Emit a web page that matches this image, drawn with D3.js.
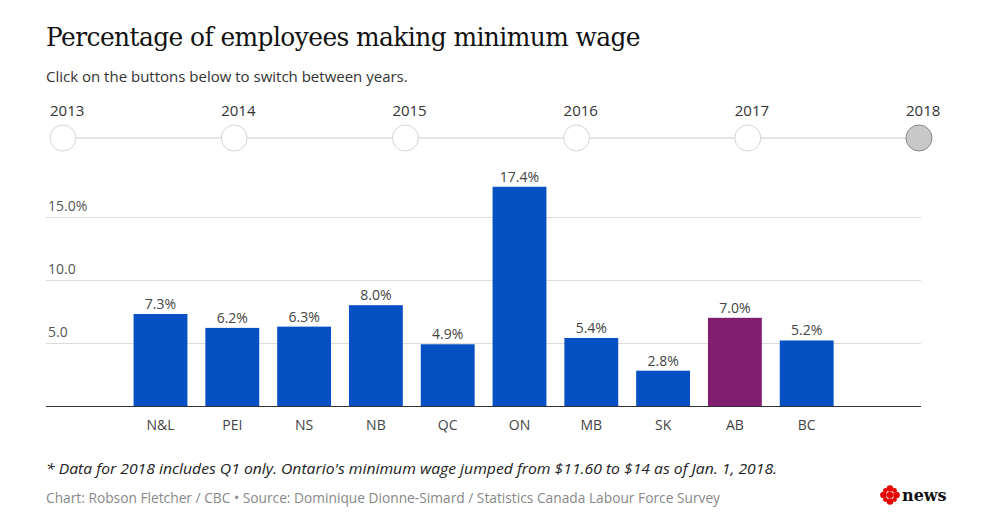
<!DOCTYPE html>
<html>
<head>
<meta charset="utf-8">
<script src="https://cdn.jsdelivr.net/npm/d3@7"></script>
<style>
  body { margin: 0; background: #fff; }
  svg { display: block; font-family: "Open Sans", sans-serif; }
</style>
</head>
<body>
<div id="chart"></div>
<script>
const provinces = ["N&L", "PEI", "NS", "NB", "QC", "ON", "MB", "SK", "AB", "BC"];
const shares2018 = [7.3, 6.2, 6.3, 8.0, 4.9, 17.4, 5.4, 2.8, 7.0, 5.2];
const highlighted = ["AB"];
const years = ["2013", "2014", "2015", "2016", "2017", "2018"];
const selectedYear = "2018";
const yTicks = [5, 10, 15];

const W = 1000, H = 522;
const svg = d3.select("#chart").append("svg")
    .attr("width", W)
    .attr("height", H);

// fit a text element to a given width
function fit(sel, width) {
    const len = sel.node().getComputedTextLength();
    if (Math.abs(len - width) > 2) {
        sel.attr("textLength", width).attr("lengthAdjust", "spacingAndGlyphs");
    }
}

// header
svg.append("text")
    .attr("x", 46).attr("y", 46)
    .style("font-family", "'DejaVu Serif', serif")
    .style("font-size", "26px")
    .style("letter-spacing", "-0.6px")
    .attr("fill", "#111")
    .text("Percentage of employees making minimum wage")
    .call(fit, 594);

svg.append("text")
    .attr("x", 46).attr("y", 82)
    .style("font-size", "15px")
    .attr("fill", "#333")
    .text("Click on the buttons below to switch between years.")
    .call(fit, 362);

// year selector
const yearX = d3.scalePoint().domain(years).range([63, 919]);
const tl = svg.append("g");
tl.append("line")
    .attr("x1", yearX(years[0])).attr("x2", yearX(years[years.length - 1]))
    .attr("y1", 138).attr("y2", 138)
    .attr("stroke", "#c8c8c8");
tl.selectAll("circle").data(years).join("circle")
    .attr("cx", d => yearX(d)).attr("cy", 138).attr("r", 13)
    .attr("fill", d => d === selectedYear ? "#c8c8c8" : "#fff")
    .attr("stroke", d => d === selectedYear ? "#8a8a8a" : "#d4d4d4");
tl.selectAll("text").data(years).join("text")
    .attr("x", d => yearX(d) - 13).attr("y", 116)
    .style("font-size", "15px")
    .attr("fill", "#333")
    .text(d => d);

// chart
const left = 46, right = 921, base = 406;
const x = d3.scaleBand()
    .domain(provinces)
    .range([124.6, 842.6])
    .paddingInner(0.25)
    .paddingOuter(0.125);
const y = d3.scaleLinear().domain([0, 5]).range([base, base - 63]);

const grid = svg.append("g");
grid.selectAll("line").data(yTicks).join("line")
    .attr("x1", left).attr("x2", right)
    .attr("y1", d => y(d) + 0.5).attr("y2", d => y(d) + 0.5)
    .attr("stroke", "#dcdcdc");
grid.selectAll("text").data(yTicks).join("text")
    .attr("x", left + 2).attr("y", d => y(d) - 6)
    .style("font-size", "14px")
    .attr("fill", "#555")
    .text(d => d3.max(yTicks) === d ? d.toFixed(1) + "%" : d.toFixed(1));

const data = provinces.map((p, i) => ({ p, v: shares2018[i] }));

svg.selectAll(".bar").data(data).join("rect")
    .attr("class", "bar")
    .attr("x", d => x(d.p))
    .attr("width", x.bandwidth())
    .attr("y", d => y(d.v))
    .attr("height", d => base - y(d.v))
    .attr("fill", d => highlighted.includes(d.p) ? "#811e6f" : "#0650c4");

svg.selectAll(".val").data(data).join("text")
    .attr("class", "val")
    .attr("x", d => x(d.p) + x.bandwidth() / 2)
    .attr("y", d => y(d.v) - 5)
    .attr("text-anchor", "middle")
    .style("font-size", "14px")
    .attr("fill", "#444")
    .text(d => d.v.toFixed(1) + "%");

svg.append("line")
    .attr("x1", left).attr("x2", right)
    .attr("y1", base + 0.5).attr("y2", base + 0.5)
    .attr("stroke", "#333");

svg.selectAll(".cat").data(provinces).join("text")
    .attr("class", "cat")
    .attr("x", d => x(d) + x.bandwidth() / 2)
    .attr("y", 430)
    .attr("text-anchor", "middle")
    .style("font-size", "14px")
    .attr("fill", "#444")
    .text(d => d);

// notes
svg.append("text")
    .attr("x", 46).attr("y", 474)
    .style("font-size", "15px")
    .style("font-style", "italic")
    .attr("fill", "#222")
    .text("* Data for 2018 includes Q1 only. Ontario's minimum wage jumped from $11.60 to $14 as of Jan. 1, 2018.")
    .call(fit, 731);

svg.append("text")
    .attr("x", 46).attr("y", 503)
    .style("font-size", "14px")
    .attr("fill", "#888")
    .text("Chart: Robson Fletcher / CBC \u2022 Source: Dominique Dionne-Simard / Statistics Canada Labour Force Survey")
    .call(fit, 674);

// logo
const logo = svg.append("g").attr("transform", "translate(890,495)");
logo.append("circle").attr("r", 3.2).attr("fill", "#e60505");
d3.range(8).forEach(i => {
    const a = i * Math.PI / 4;
    logo.append("circle")
        .attr("cx", Math.cos(a) * 6.5).attr("cy", Math.sin(a) * 6.5)
        .attr("r", i % 2 ? 2.3 : 3.3)
        .attr("fill", "#e60505");
});
svg.append("text")
    .attr("x", 902).attr("y", 501)
    .style("font-family", "'DejaVu Serif', serif")
    .style("font-weight", "bold")
    .style("font-size", "16px")
    .attr("fill", "#111")
    .text("news")
    .call(fit, 44);
</script>
</body>
</html>
